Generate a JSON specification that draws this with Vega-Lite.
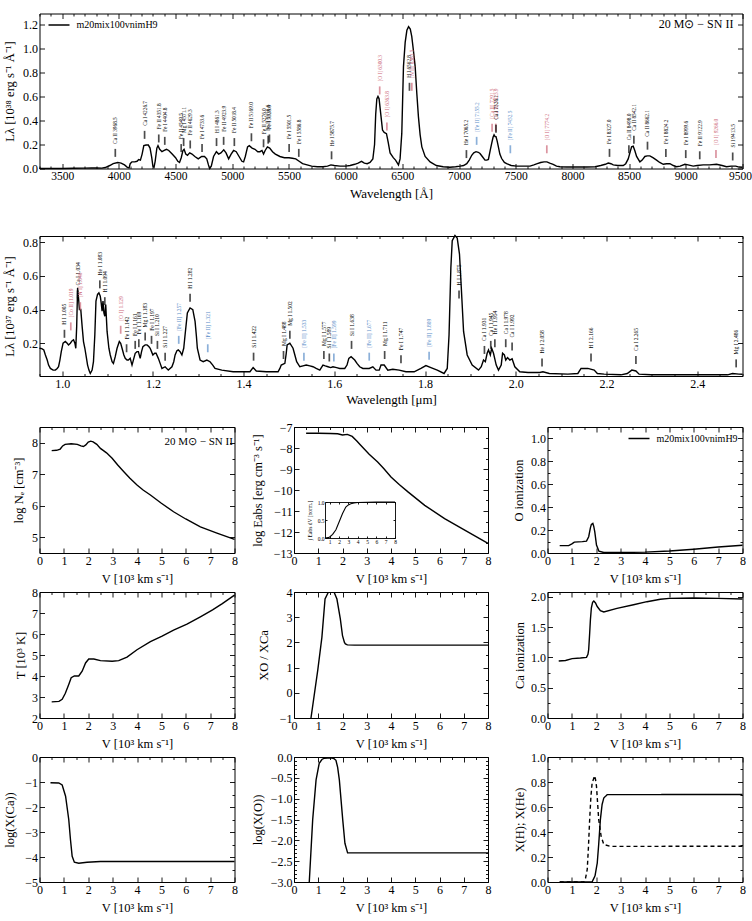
{
"$schema": "https://vega.github.io/schema/vega-lite/v6.json",
"background": "white",
"padding": {"left": 1.5, "top": 12.5, "right": 5, "bottom": 2},
"config": {
  "font": "Liberation Serif",
  "view": {"stroke": "black", "strokeWidth": 1},
  "axis": {"domain": false, "grid": false, "tickColor": "black", "tickWidth": 0.9, "labelColor": "black", "titleColor": "black", "labelFontSize": 12, "titleFontSize": 12.5, "titleFontWeight": "normal", "labelFlush": false, "labelOverlap": false, "labelPadding": 7, "titleBaseline": "middle", "minExtent": 0},
  "axisBottom": {"titleY": 25},
  "legend": {"labelFontSize": 10, "labelColor": "black", "labelFont": "Liberation Serif"},
  "text": {"color": "black", "font": "Liberation Serif"}
},
"datasets": {
  "opt": [
    {"w":3300,"f":0},{"w":3400,"f":0},{"w":3500,"f":0},{"w":3600,"f":0.002},{"w":3700,"f":0.003},{"w":3760,"f":0.005},{"w":3800,"f":0.004},{"w":3850,"f":0.003},{"w":3880,"f":0.008},{"w":3920,"f":0.025},{"w":3950,"f":0.04},{"w":3990,"f":0.05},{"w":4020,"f":0.045},{"w":4050,"f":0.03},{"w":4075,"f":0.01},{"w":4090,"f":0.005},{"w":4100,"f":0.04},{"w":4115,"f":0.055},{"w":4140,"f":0.055},{"w":4160,"f":0.06},{"w":4175,"f":0.075},{"w":4190,"f":0.07},{"w":4205,"f":0.12},{"w":4220,"f":0.19},{"w":4240,"f":0.195},{"w":4260,"f":0.195},{"w":4275,"f":0.17},{"w":4290,"f":0.09},{"w":4300,"f":0.02},{"w":4310,"f":0.01},{"w":4320,"f":0.06},{"w":4335,"f":0.17},{"w":4345,"f":0.19},{"w":4360,"f":0.16},{"w":4380,"f":0.14},{"w":4400,"f":0.15},{"w":4420,"f":0.16},{"w":4440,"f":0.15},{"w":4470,"f":0.12},{"w":4500,"f":0.09},{"w":4520,"f":0.06},{"w":4535,"f":0.05},{"w":4550,"f":0.09},{"w":4565,"f":0.15},{"w":4575,"f":0.16},{"w":4590,"f":0.12},{"w":4605,"f":0.11},{"w":4625,"f":0.13},{"w":4645,"f":0.12},{"w":4670,"f":0.1},{"w":4700,"f":0.08},{"w":4730,"f":0.1},{"w":4755,"f":0.1},{"w":4775,"f":0.08},{"w":4790,"f":0.03},{"w":4800,"f":0},{"w":4815,"f":0.02},{"w":4835,"f":0.1},{"w":4860,"f":0.14},{"w":4880,"f":0.12},{"w":4900,"f":0.13},{"w":4925,"f":0.155},{"w":4945,"f":0.13},{"w":4968,"f":0.08},{"w":4990,"f":0.12},{"w":5012,"f":0.15},{"w":5035,"f":0.14},{"w":5060,"f":0.1},{"w":5085,"f":0.06},{"w":5100,"f":0.055},{"w":5115,"f":0.1},{"w":5135,"f":0.18},{"w":5150,"f":0.19},{"w":5175,"f":0.17},{"w":5200,"f":0.16},{"w":5225,"f":0.14},{"w":5245,"f":0.14},{"w":5262,"f":0.15},{"w":5276,"f":0.12},{"w":5290,"f":0.15},{"w":5310,"f":0.18},{"w":5330,"f":0.17},{"w":5355,"f":0.14},{"w":5380,"f":0.12},{"w":5420,"f":0.1},{"w":5460,"f":0.09},{"w":5500,"f":0.09},{"w":5530,"f":0.085},{"w":5560,"f":0.08},{"w":5590,"f":0.06},{"w":5620,"f":0.04},{"w":5660,"f":0.03},{"w":5700,"f":0.02},{"w":5750,"f":0.015},{"w":5800,"f":0.015},{"w":5840,"f":0.02},{"w":5870,"f":0.03},{"w":5900,"f":0.025},{"w":5950,"f":0.02},{"w":6000,"f":0.02},{"w":6040,"f":0.025},{"w":6080,"f":0.035},{"w":6110,"f":0.045},{"w":6140,"f":0.06},{"w":6165,"f":0.045},{"w":6190,"f":0.04},{"w":6215,"f":0.05},{"w":6240,"f":0.08},{"w":6255,"f":0.2},{"w":6265,"f":0.45},{"w":6275,"f":0.58},{"w":6285,"f":0.6},{"w":6295,"f":0.58},{"w":6310,"f":0.45},{"w":6325,"f":0.32},{"w":6340,"f":0.3},{"w":6360,"f":0.29},{"w":6375,"f":0.22},{"w":6392,"f":0.13},{"w":6420,"f":0.09},{"w":6440,"f":0.07},{"w":6466,"f":0.03},{"w":6480,"f":0.08},{"w":6495,"f":0.29},{"w":6510,"f":0.85},{"w":6525,"f":1.05},{"w":6540,"f":1.15},{"w":6555,"f":1.18},{"w":6570,"f":1.16},{"w":6583,"f":1.1},{"w":6598,"f":0.98},{"w":6613,"f":0.85},{"w":6628,"f":0.62},{"w":6642,"f":0.43},{"w":6657,"f":0.28},{"w":6672,"f":0.18},{"w":6701,"f":0.1},{"w":6745,"f":0.055},{"w":6800,"f":0.025},{"w":6860,"f":0.015},{"w":6920,"f":0.01},{"w":6970,"f":0.015},{"w":7010,"f":0.02},{"w":7040,"f":0.025},{"w":7068,"f":0.04},{"w":7090,"f":0.07},{"w":7112,"f":0.11},{"w":7130,"f":0.13},{"w":7150,"f":0.14},{"w":7170,"f":0.135},{"w":7185,"f":0.125},{"w":7205,"f":0.1},{"w":7229,"f":0.07},{"w":7245,"f":0.07},{"w":7259,"f":0.075},{"w":7275,"f":0.15},{"w":7288,"f":0.21},{"w":7300,"f":0.26},{"w":7309,"f":0.28},{"w":7318,"f":0.265},{"w":7326,"f":0.265},{"w":7336,"f":0.23},{"w":7347,"f":0.18},{"w":7360,"f":0.12},{"w":7376,"f":0.083},{"w":7400,"f":0.05},{"w":7420,"f":0.04},{"w":7460,"f":0.025},{"w":7508,"f":0.02},{"w":7560,"f":0.02},{"w":7626,"f":0.02},{"w":7660,"f":0.03},{"w":7690,"f":0.04},{"w":7720,"f":0.05},{"w":7750,"f":0.055},{"w":7775,"f":0.055},{"w":7800,"f":0.045},{"w":7830,"f":0.035},{"w":7860,"f":0.02},{"w":7890,"f":0.015},{"w":7950,"f":0.012},{"w":8050,"f":0.012},{"w":8125,"f":0.012},{"w":8200,"f":0.015},{"w":8250,"f":0.025},{"w":8290,"f":0.035},{"w":8316,"f":0.045},{"w":8340,"f":0.04},{"w":8360,"f":0.03},{"w":8400,"f":0.025},{"w":8448,"f":0.025},{"w":8470,"f":0.04},{"w":8492,"f":0.08},{"w":8510,"f":0.14},{"w":8522,"f":0.18},{"w":8536,"f":0.185},{"w":8550,"f":0.15},{"w":8566,"f":0.1},{"w":8595,"f":0.055},{"w":8615,"f":0.07},{"w":8639,"f":0.1},{"w":8660,"f":0.105},{"w":8683,"f":0.105},{"w":8710,"f":0.09},{"w":8742,"f":0.07},{"w":8770,"f":0.05},{"w":8801,"f":0.035},{"w":8830,"f":0.04},{"w":8860,"f":0.04},{"w":8890,"f":0.025},{"w":8918,"f":0.015},{"w":8950,"f":0.02},{"w":8992,"f":0.035},{"w":9020,"f":0.03},{"w":9065,"f":0.02},{"w":9100,"f":0.025},{"w":9153,"f":0.03},{"w":9210,"f":0.03},{"w":9271,"f":0.035},{"w":9320,"f":0.025},{"w":9359,"f":0.015},{"w":9400,"f":0.02},{"w":9440,"f":0.02},{"w":9470,"f":0.012},{"w":9500,"f":0.01}
  ],
  "l1": [
    {"w":3968.5,"y":0.13,"t":"Ca II 3968.5","k":"p"},
    {"w":4226.7,"y":0.28,"t":"Ca I 4226.7","k":"p"},
    {"w":4351.8,"y":0.25,"t":"Fe II 4351.8","k":"p"},
    {"w":4404.8,"y":0.23,"t":"Fe I 4404.8","k":"p"},
    {"w":4549.5,"y":0.17,"t":"Fe II 4549.5","k":"p"},
    {"w":4571.1,"y":0.22,"t":"Mg I 4571.1","k":"p"},
    {"w":4629.3,"y":0.2,"t":"Fe II 4629.3","k":"p"},
    {"w":4733.6,"y":0.17,"t":"Fe I 4733.6","k":"p"},
    {"w":4861.3,"y":0.22,"t":"H I 4861.3","k":"p"},
    {"w":4923.9,"y":0.23,"t":"Fe II 4923.9","k":"p"},
    {"w":5018.4,"y":0.22,"t":"Fe II 5018.4","k":"p"},
    {"w":5169.0,"y":0.26,"t":"Fe II 5169.0","k":"p"},
    {"w":5276.0,"y":0.21,"t":"Fe II 5276.0","k":"p"},
    {"w":5316.6,"y":0.24,"t":"Fe II 5316.6","k":"p"},
    {"w":5328.0,"y":0.25,"t":"Fe I 5328.0","k":"p"},
    {"w":5501.5,"y":0.17,"t":"Fe I 5501.5","k":"p"},
    {"w":5586.8,"y":0.13,"t":"Fe I 5586.8","k":"p"},
    {"w":5875.7,"y":0.11,"t":"He I 5875.7","k":"p"},
    {"w":6300.3,"y":0.65,"t":"[O I] 6300.3","k":"f"},
    {"w":6363.8,"y":0.35,"t":"[O I] 6363.8","k":"f"},
    {"w":6562.8,"y":0.68,"t":"H I 6562.8","k":"p"},
    {"w":6583.5,"y":0.68,"t":"[N II] 6583.5","k":"f"},
    {"w":7065.2,"y":0.12,"t":"He I 7065.2","k":"p"},
    {"w":7155.2,"y":0.23,"t":"[Fe II] 7155.2","k":"b"},
    {"w":7291.5,"y":0.34,"t":"[Ca II] 7291.5","k":"f"},
    {"w":7323.9,"y":0.34,"t":"[Ca II] 7323.9","k":"f"},
    {"w":7326.1,"y":0.33,"t":"Ca I 7326.1","k":"p"},
    {"w":7452.5,"y":0.16,"t":"[Fe II] 7452.5","k":"b"},
    {"w":7774.2,"y":0.16,"t":"[O I] 7774.2","k":"f"},
    {"w":8327.0,"y":0.13,"t":"Fe I 8327.0","k":"p"},
    {"w":8498.0,"y":0.16,"t":"Ca II 8498.0","k":"p"},
    {"w":8542.1,"y":0.24,"t":"Ca II 8542.1","k":"p"},
    {"w":8662.1,"y":0.19,"t":"Ca II 8662.1","k":"p"},
    {"w":8824.2,"y":0.13,"t":"Fe I 8824.2","k":"p"},
    {"w":8999.6,"y":0.12,"t":"Fe I 8999.6","k":"p"},
    {"w":9122.9,"y":0.11,"t":"Fe II 9122.9","k":"p"},
    {"w":9266.0,"y":0.12,"t":"[O I] 9266.0","k":"f"},
    {"w":9413.5,"y":0.1,"t":"Si I 9413.5","k":"p"}
  ],
  "nir": [
    {"w":0.95,"f":0.17},{"w":0.955,"f":0.168},{"w":0.9595,"f":0.16},{"w":0.963,"f":0.13},{"w":0.967,"f":0.1},{"w":0.97,"f":0.07},{"w":0.974,"f":0.05},{"w":0.98,"f":0.04},{"w":0.985,"f":0.04},{"w":0.989,"f":0.05},{"w":0.992,"f":0.06},{"w":0.995,"f":0.1},{"w":0.998,"f":0.15},{"w":1.002,"f":0.2},{"w":1.007,"f":0.21},{"w":1.011,"f":0.2},{"w":1.014,"f":0.19},{"w":1.018,"f":0.2},{"w":1.022,"f":0.215},{"w":1.025,"f":0.22},{"w":1.028,"f":0.2},{"w":1.03,"f":0.17},{"w":1.032,"f":0.3},{"w":1.034,"f":0.53},{"w":1.036,"f":0.47},{"w":1.038,"f":0.4},{"w":1.041,"f":0.4},{"w":1.044,"f":0.3},{"w":1.047,"f":0.21},{"w":1.05,"f":0.17},{"w":1.053,"f":0.12},{"w":1.056,"f":0.07},{"w":1.059,"f":0.04},{"w":1.062,"f":0.02},{"w":1.066,"f":0.04},{"w":1.069,"f":0.09},{"w":1.072,"f":0.25},{"w":1.0745,"f":0.45},{"w":1.078,"f":0.49},{"w":1.081,"f":0.5},{"w":1.084,"f":0.48},{"w":1.086,"f":0.44},{"w":1.088,"f":0.39},{"w":1.09,"f":0.45},{"w":1.092,"f":0.38},{"w":1.094,"f":0.36},{"w":1.096,"f":0.43},{"w":1.099,"f":0.27},{"w":1.103,"f":0.17},{"w":1.106,"f":0.13},{"w":1.11,"f":0.09},{"w":1.113,"f":0.08},{"w":1.117,"f":0.12},{"w":1.121,"f":0.17},{"w":1.126,"f":0.21},{"w":1.129,"f":0.2},{"w":1.132,"f":0.17},{"w":1.136,"f":0.13},{"w":1.139,"f":0.11},{"w":1.143,"f":0.1},{"w":1.146,"f":0.1},{"w":1.15,"f":0.11},{"w":1.154,"f":0.07},{"w":1.158,"f":0.11},{"w":1.161,"f":0.14},{"w":1.165,"f":0.15},{"w":1.168,"f":0.15},{"w":1.172,"f":0.11},{"w":1.175,"f":0.15},{"w":1.178,"f":0.18},{"w":1.183,"f":0.19},{"w":1.187,"f":0.19},{"w":1.191,"f":0.18},{"w":1.194,"f":0.17},{"w":1.197,"f":0.15},{"w":1.2,"f":0.13},{"w":1.204,"f":0.14},{"w":1.207,"f":0.14},{"w":1.212,"f":0.11},{"w":1.216,"f":0.08},{"w":1.22,"f":0.05},{"w":1.227,"f":0.06},{"w":1.234,"f":0.04},{"w":1.242,"f":0.06},{"w":1.246,"f":0.09},{"w":1.249,"f":0.13},{"w":1.253,"f":0.155},{"w":1.256,"f":0.16},{"w":1.26,"f":0.15},{"w":1.264,"f":0.13},{"w":1.268,"f":0.17},{"w":1.271,"f":0.25},{"w":1.276,"f":0.38},{"w":1.282,"f":0.41},{"w":1.288,"f":0.4},{"w":1.293,"f":0.33},{"w":1.296,"f":0.24},{"w":1.298,"f":0.17},{"w":1.304,"f":0.1},{"w":1.311,"f":0.09},{"w":1.319,"f":0.1},{"w":1.326,"f":0.09},{"w":1.332,"f":0.07},{"w":1.337,"f":0.05},{"w":1.352,"f":0.04},{"w":1.377,"f":0.03},{"w":1.4,"f":0.03},{"w":1.414,"f":0.03},{"w":1.421,"f":0.055},{"w":1.428,"f":0.035},{"w":1.45,"f":0.03},{"w":1.476,"f":0.03},{"w":1.48,"f":0.05},{"w":1.483,"f":0.07},{"w":1.491,"f":0.08},{"w":1.494,"f":0.14},{"w":1.496,"f":0.19},{"w":1.502,"f":0.2},{"w":1.509,"f":0.17},{"w":1.513,"f":0.13},{"w":1.517,"f":0.09},{"w":1.524,"f":0.06},{"w":1.531,"f":0.065},{"w":1.538,"f":0.07},{"w":1.546,"f":0.065},{"w":1.553,"f":0.06},{"w":1.56,"f":0.05},{"w":1.568,"f":0.04},{"w":1.575,"f":0.07},{"w":1.58,"f":0.065},{"w":1.586,"f":0.06},{"w":1.592,"f":0.055},{"w":1.597,"f":0.06},{"w":1.605,"f":0.055},{"w":1.612,"f":0.05},{"w":1.623,"f":0.05},{"w":1.628,"f":0.07},{"w":1.632,"f":0.11},{"w":1.637,"f":0.12},{"w":1.645,"f":0.1},{"w":1.65,"f":0.08},{"w":1.656,"f":0.06},{"w":1.663,"f":0.05},{"w":1.67,"f":0.05},{"w":1.677,"f":0.05},{"w":1.685,"f":0.06},{"w":1.692,"f":0.04},{"w":1.699,"f":0.04},{"w":1.703,"f":0.07},{"w":1.71,"f":0.07},{"w":1.718,"f":0.04},{"w":1.729,"f":0.045},{"w":1.743,"f":0.04},{"w":1.758,"f":0.03},{"w":1.776,"f":0.03},{"w":1.791,"f":0.05},{"w":1.802,"f":0.067},{"w":1.813,"f":0.055},{"w":1.827,"f":0.04},{"w":1.842,"f":0.02},{"w":1.849,"f":0.05},{"w":1.853,"f":0.25},{"w":1.857,"f":0.65},{"w":1.86,"f":0.81},{"w":1.866,"f":0.84},{"w":1.871,"f":0.825},{"w":1.876,"f":0.73},{"w":1.88,"f":0.53},{"w":1.885,"f":0.27},{"w":1.893,"f":0.13},{"w":1.904,"f":0.07},{"w":1.918,"f":0.04},{"w":1.924,"f":0.06},{"w":1.929,"f":0.1},{"w":1.933,"f":0.09},{"w":1.937,"f":0.14},{"w":1.94,"f":0.16},{"w":1.944,"f":0.13},{"w":1.947,"f":0.17},{"w":1.951,"f":0.14},{"w":1.957,"f":0.07},{"w":1.962,"f":0.04},{"w":1.968,"f":0.07},{"w":1.971,"f":0.14},{"w":1.975,"f":0.13},{"w":1.978,"f":0.1},{"w":1.982,"f":0.115},{"w":1.987,"f":0.1},{"w":1.992,"f":0.107},{"w":1.998,"f":0.06},{"w":2.009,"f":0.03},{"w":2.027,"f":0.026},{"w":2.053,"f":0.026},{"w":2.06,"f":0.03},{"w":2.074,"f":0.02},{"w":2.115,"f":0.016},{"w":2.137,"f":0.02},{"w":2.144,"f":0.05},{"w":2.159,"f":0.05},{"w":2.173,"f":0.04},{"w":2.18,"f":0.02},{"w":2.195,"f":0.016},{"w":2.232,"f":0.012},{"w":2.246,"f":0.02},{"w":2.256,"f":0.04},{"w":2.265,"f":0.035},{"w":2.272,"f":0.016},{"w":2.298,"f":0.012},{"w":2.408,"f":0.012},{"w":2.467,"f":0.012},{"w":2.478,"f":0.02},{"w":2.492,"f":0.016},{"w":2.5,"f":0.015}
  ],
  "l2": [
    {"w":1.005,"y":0.256,"t":"H I 1.005","k":"p"},
    {"w":1.019,"y":0.3,"t":"[Co II] 1.019","k":"f"},
    {"w":1.034,"y":0.49,"t":"Ca I 1.034","k":"p"},
    {"w":1.04,"y":0.42,"t":"[N I] 1.040","k":"f"},
    {"w":1.083,"y":0.55,"t":"He I 1.083","k":"p"},
    {"w":1.094,"y":0.45,"t":"H I 1.094","k":"p"},
    {"w":1.129,"y":0.28,"t":"[O I] 1.129","k":"f"},
    {"w":1.142,"y":0.17,"t":"Fe I 1.142","k":"p"},
    {"w":1.161,"y":0.19,"t":"Fe I 1.161","k":"p"},
    {"w":1.169,"y":0.2,"t":"Fe I 1.169","k":"p"},
    {"w":1.183,"y":0.24,"t":"Mg I 1.183","k":"p"},
    {"w":1.197,"y":0.22,"t":"Fe I 1.197","k":"p"},
    {"w":1.21,"y":0.19,"t":"Si I 1.210","k":"p"},
    {"w":1.227,"y":0.12,"t":"Si I 1.227","k":"p"},
    {"w":1.257,"y":0.22,"t":"[Fe II] 1.257","k":"b"},
    {"w":1.282,"y":0.47,"t":"H I 1.282","k":"p"},
    {"w":1.321,"y":0.17,"t":"[Fe II] 1.321","k":"b"},
    {"w":1.422,"y":0.12,"t":"Si I 1.422","k":"p"},
    {"w":1.488,"y":0.13,"t":"Mg I 1.488","k":"p"},
    {"w":1.502,"y":0.25,"t":"Mg I 1.502","k":"p"},
    {"w":1.533,"y":0.12,"t":"[Fe II] 1.533","k":"b"},
    {"w":1.577,"y":0.13,"t":"Mg I 1.577","k":"p"},
    {"w":1.589,"y":0.115,"t":"Si I 1.589","k":"p"},
    {"w":1.599,"y":0.115,"t":"[Fe II] 1.599","k":"b"},
    {"w":1.638,"y":0.19,"t":"Si I 1.638","k":"p"},
    {"w":1.677,"y":0.12,"t":"[Fe II] 1.677","k":"b"},
    {"w":1.711,"y":0.13,"t":"Mg I 1.711","k":"p"},
    {"w":1.747,"y":0.105,"t":"Fe I 1.747","k":"p"},
    {"w":1.809,"y":0.125,"t":"[Fe II] 1.809","k":"b"},
    {"w":1.875,"y":0.49,"t":"H I 1.875","k":"p"},
    {"w":1.931,"y":0.16,"t":"Ca I 1.931","k":"p"},
    {"w":1.945,"y":0.19,"t":"Ca I 1.945","k":"p"},
    {"w":1.954,"y":0.2,"t":"He I 1.954","k":"p"},
    {"w":1.978,"y":0.2,"t":"Ca I 1.978","k":"p"},
    {"w":1.992,"y":0.18,"t":"Ca I 1.992","k":"p"},
    {"w":2.058,"y":0.085,"t":"He I 2.058","k":"p"},
    {"w":2.166,"y":0.115,"t":"H I 2.166","k":"p"},
    {"w":2.265,"y":0.1,"t":"Ca I 2.265","k":"p"},
    {"w":2.486,"y":0.08,"t":"Mg I 2.486","k":"p"}
  ],
  "ne": [{"v":0.5,"y":7.75},{"v":0.7,"y":7.76},{"v":0.85,"y":7.8},{"v":0.95,"y":7.9},{"v":1.05,"y":7.95},{"v":1.3,"y":7.97},{"v":1.55,"y":7.95},{"v":1.7,"y":7.9},{"v":1.8,"y":7.88},{"v":1.9,"y":7.93},{"v":2.0,"y":8.02},{"v":2.1,"y":8.05},{"v":2.2,"y":8.03},{"v":2.35,"y":7.95},{"v":2.5,"y":7.82},{"v":2.75,"y":7.68},{"v":2.98,"y":7.51},{"v":3.2,"y":7.3},{"v":3.46,"y":7.08},{"v":3.7,"y":6.88},{"v":4.0,"y":6.66},{"v":4.25,"y":6.5},{"v":4.55,"y":6.34},{"v":5.0,"y":6.08},{"v":5.5,"y":5.81},{"v":6.0,"y":5.58},{"v":6.6,"y":5.33},{"v":7.28,"y":5.13},{"v":8.0,"y":4.93}],
  "eabs": [{"v":0.5,"y":-7.3},{"v":1.0,"y":-7.3},{"v":1.5,"y":-7.31},{"v":1.8,"y":-7.32},{"v":2.0,"y":-7.38},{"v":2.2,"y":-7.35},{"v":2.4,"y":-7.45},{"v":2.6,"y":-7.68},{"v":2.76,"y":-7.88},{"v":3.1,"y":-8.3},{"v":3.45,"y":-8.67},{"v":3.7,"y":-8.98},{"v":4.0,"y":-9.38},{"v":4.35,"y":-9.75},{"v":4.7,"y":-10.09},{"v":5.39,"y":-10.73},{"v":6.21,"y":-11.36},{"v":7.04,"y":-11.91},{"v":8.0,"y":-12.54}],
  "inset": [{"v":0.5,"y":0},{"v":0.85,"y":0.01},{"v":1.0,"y":0.03},{"v":1.32,"y":0.1},{"v":1.67,"y":0.23},{"v":2.02,"y":0.45},{"v":2.38,"y":0.68},{"v":2.73,"y":0.86},{"v":3.0,"y":0.92},{"v":3.27,"y":0.95},{"v":3.6,"y":0.97},{"v":4.0,"y":0.985},{"v":5.0,"y":0.995},{"v":6.0,"y":1.0},{"v":8.0,"y":1.0}],
  "oion": [{"v":0.5,"y":0.064},{"v":0.87,"y":0.064},{"v":1.0,"y":0.08},{"v":1.1,"y":0.095},{"v":1.43,"y":0.099},{"v":1.6,"y":0.104},{"v":1.69,"y":0.142},{"v":1.76,"y":0.22},{"v":1.8,"y":0.25},{"v":1.86,"y":0.258},{"v":1.9,"y":0.23},{"v":1.94,"y":0.185},{"v":2.01,"y":0.07},{"v":2.11,"y":0.015},{"v":2.31,"y":0.004},{"v":3.0,"y":0.004},{"v":4.0,"y":0.008},{"v":5.0,"y":0.017},{"v":6.0,"y":0.033},{"v":7.0,"y":0.052},{"v":8.0,"y":0.068}],
  "temp": [{"v":0.5,"y":2.77},{"v":0.8,"y":2.79},{"v":0.93,"y":2.89},{"v":1.06,"y":3.18},{"v":1.2,"y":3.6},{"v":1.3,"y":3.92},{"v":1.43,"y":4.0},{"v":1.61,"y":4.0},{"v":1.75,"y":4.23},{"v":1.89,"y":4.62},{"v":2.02,"y":4.81},{"v":2.23,"y":4.81},{"v":2.5,"y":4.73},{"v":2.98,"y":4.7},{"v":3.25,"y":4.73},{"v":3.59,"y":4.9},{"v":4.0,"y":5.25},{"v":4.55,"y":5.64},{"v":5.03,"y":5.9},{"v":5.5,"y":6.19},{"v":6.05,"y":6.47},{"v":6.6,"y":6.82},{"v":7.1,"y":7.15},{"v":7.5,"y":7.45},{"v":8.0,"y":7.85}],
  "xoca": [{"v":0.7,"y":-1.0},{"v":0.98,"y":0.9},{"v":1.15,"y":2.2},{"v":1.28,"y":3.72},{"v":1.42,"y":4.5},{"v":1.55,"y":4.8},{"v":1.65,"y":4.6},{"v":1.77,"y":3.72},{"v":1.91,"y":2.93},{"v":2.0,"y":2.27},{"v":2.08,"y":2.0},{"v":2.12,"y":1.94},{"v":2.2,"y":1.9},{"v":2.5,"y":1.89},{"v":8.0,"y":1.89}],
  "caion": [{"v":0.46,"y":0.94},{"v":0.74,"y":0.95},{"v":1.01,"y":0.98},{"v":1.35,"y":0.99},{"v":1.6,"y":1.0},{"v":1.66,"y":1.05},{"v":1.69,"y":1.13},{"v":1.73,"y":1.4},{"v":1.76,"y":1.62},{"v":1.8,"y":1.82},{"v":1.85,"y":1.91},{"v":1.9,"y":1.93},{"v":1.97,"y":1.9},{"v":2.04,"y":1.84},{"v":2.17,"y":1.77},{"v":2.31,"y":1.75},{"v":2.85,"y":1.81},{"v":3.53,"y":1.87},{"v":4.08,"y":1.92},{"v":4.63,"y":1.96},{"v":5.0,"y":1.975},{"v":6.0,"y":1.98},{"v":7.0,"y":1.975},{"v":8.0,"y":1.965}],
  "xca": [{"v":0.45,"y":-1.03},{"v":0.79,"y":-1.04},{"v":0.93,"y":-1.12},{"v":1.07,"y":-1.57},{"v":1.2,"y":-2.5},{"v":1.27,"y":-3.3},{"v":1.34,"y":-3.97},{"v":1.43,"y":-4.21},{"v":1.61,"y":-4.25},{"v":1.95,"y":-4.21},{"v":2.5,"y":-4.18},{"v":8.0,"y":-4.18}],
  "xo": [{"v":0.63,"y":-3.0},{"v":0.77,"y":-1.51},{"v":0.91,"y":-0.55},{"v":1.04,"y":-0.15},{"v":1.15,"y":-0.06},{"v":1.25,"y":-0.03},{"v":1.53,"y":-0.02},{"v":1.65,"y":-0.04},{"v":1.73,"y":-0.08},{"v":1.8,"y":-0.25},{"v":1.87,"y":-0.55},{"v":2.01,"y":-1.51},{"v":2.1,"y":-2.07},{"v":2.21,"y":-2.3},{"v":8.0,"y":-2.3}],
  "xh": [{"v":0.5,"y":0,"s":"H"},{"v":1.83,"y":0,"s":"H"},{"v":1.95,"y":0.05,"s":"H"},{"v":2.04,"y":0.15,"s":"H"},{"v":2.1,"y":0.3,"s":"H"},{"v":2.17,"y":0.5,"s":"H"},{"v":2.24,"y":0.62,"s":"H"},{"v":2.31,"y":0.672,"s":"H"},{"v":2.45,"y":0.699,"s":"H"},{"v":8.0,"y":0.7,"s":"H"},
         {"v":0.5,"y":0,"s":"He"},{"v":1.49,"y":0,"s":"He"},{"v":1.56,"y":0.03,"s":"He"},{"v":1.63,"y":0.1,"s":"He"},{"v":1.68,"y":0.28,"s":"He"},{"v":1.73,"y":0.5,"s":"He"},{"v":1.78,"y":0.68,"s":"He"},{"v":1.83,"y":0.79,"s":"He"},{"v":1.93,"y":0.85,"s":"He"},{"v":1.97,"y":0.82,"s":"He"},{"v":2.01,"y":0.765,"s":"He"},{"v":2.1,"y":0.5,"s":"He"},{"v":2.2,"y":0.366,"s":"He"},{"v":2.31,"y":0.3,"s":"He"},{"v":2.58,"y":0.285,"s":"He"},{"v":8.0,"y":0.286,"s":"He"}],
  "one": [{"a": 1}]
},
"spacing": 13.5,
"resolve": {"scale": {"color": "independent", "strokeDash": "independent"}},
"vconcat": [
 {"spacing": 30.5, "resolve": {"scale": {"color": "independent"}}, "vconcat": [
  {
   "width": 703, "height": 155,
   "layer": [
    {"data": {"name": "opt"}, "mark": {"type": "line", "strokeWidth": 1.4},
     "encoding": {
      "x": {"field": "w", "type": "quantitative", "scale": {"domain": [3300, 9500], "nice": false, "zero": false},
            "axis": {"title": "Wavelength [Å]", "titleFontSize": 13, "format": "d", "labelFontSize": 11.5, "labelFlush": 3, "labelFlushOffset": 9,
                     "values": [3300,3400,3500,3600,3700,3800,3900,4000,4100,4200,4300,4400,4500,4600,4700,4800,4900,5000,5100,5200,5300,5400,5500,5600,5700,5800,5900,6000,6100,6200,6300,6400,6500,6600,6700,6800,6900,7000,7100,7200,7300,7400,7500,7600,7700,7800,7900,8000,8100,8200,8300,8400,8500,8600,8700,8800,8900,9000,9100,9200,9300,9400,9500],
                     "labelExpr": "datum.value % 500 === 0 ? datum.label : ''",
                     "tickSize": {"condition": {"test": "datum.value % 500 === 0", "value": -5}, "value": -2.5}}},
      "y": {"field": "f", "type": "quantitative", "scale": {"domain": [0, 1.29], "nice": false, "zero": false},
            "axis": {"title": "Lλ [10³⁸ erg s⁻¹ Å⁻¹]", "titleX": -30.5, "format": ".1f", "values": [0,0.2,0.4,0.6,0.8,1.0,1.2], "tickSize": -5}},
      "color": {"datum": "m20mix100vnimH9", "scale": {"range": ["black"]},
                "legend": {"orient": "none", "legendX": 8, "legendY": 0, "title": null, "symbolType": "stroke", "symbolSize": 441, "symbolStrokeWidth": 1.5, "labelFontSize": 10, "labelOffset": 6, "padding": 0}}
     }},
    {"data": {"name": "opt"}, "mark": {"type": "line", "opacity": 0},
     "encoding": {
      "x": {"field": "w", "type": "quantitative", "scale": {"domain": [3300, 9500], "nice": false, "zero": false},
            "axis": {"orient": "top", "title": null, "labels": false,
                     "values": [3300,3400,3500,3600,3700,3800,3900,4000,4100,4200,4300,4400,4500,4600,4700,4800,4900,5000,5100,5200,5300,5400,5500,5600,5700,5800,5900,6000,6100,6200,6300,6400,6500,6600,6700,6800,6900,7000,7100,7200,7300,7400,7500,7600,7700,7800,7900,8000,8100,8200,8300,8400,8500,8600,8700,8800,8900,9000,9100,9200,9300,9400,9500],
                     "tickSize": {"condition": {"test": "datum.value % 500 === 0", "value": -5}, "value": -2.5}}},
      "y": {"field": "f", "type": "quantitative", "scale": {"domain": [0, 1.29], "nice": false, "zero": false},
            "axis": {"orient": "right", "title": null, "labels": false, "values": [0,0.2,0.4,0.6,0.8,1.0,1.2], "tickSize": -5}}
     }},
    {"data": {"name": "l1"}, "mark": {"type": "tick", "orient": "vertical", "size": 8, "thickness": 1.7},
     "encoding": {
      "x": {"field": "w", "type": "quantitative", "scale": {"domain": [3300, 9500], "nice": false, "zero": false}, "axis": null},
      "y": {"field": "y", "type": "quantitative", "scale": {"domain": [0, 1.29], "nice": false, "zero": false}, "axis": null},
      "color": {"field": "k", "type": "nominal", "scale": {"domain": ["p", "f", "b"], "range": ["black", "#cc6677", "#5b8ec9"]}, "legend": null}
     }},
    {"data": {"name": "l1"}, "mark": {"type": "text", "angle": 270, "align": "left", "baseline": "middle", "dx": 9, "fontSize": 5.3},
     "encoding": {
      "x": {"field": "w", "type": "quantitative", "scale": {"domain": [3300, 9500], "nice": false, "zero": false}, "axis": null},
      "y": {"field": "y", "type": "quantitative", "scale": {"domain": [0, 1.29], "nice": false, "zero": false}, "axis": null},
      "text": {"field": "t"},
      "color": {"field": "k", "type": "nominal", "scale": {"domain": ["p", "f", "b"], "range": ["black", "#cc6677", "#5b8ec9"]}, "legend": null}
     }},
    {"data": {"name": "one"}, "mark": {"type": "text", "align": "right", "baseline": "middle", "fontSize": 12},
     "encoding": {
      "x": {"datum": 9420, "type": "quantitative", "scale": {"domain": [3300, 9500], "nice": false, "zero": false}, "axis": null},
      "y": {"datum": 1.2, "type": "quantitative", "scale": {"domain": [0, 1.29], "nice": false, "zero": false}, "axis": null},
      "text": {"value": "20 M⊙ − SN II"}
     }}
   ],
   "resolve": {"scale": {"color": "independent"}, "axis": {"x": "independent", "y": "independent"}}
  },
  {
   "width": 703, "height": 140,
   "layer": [
    {"data": {"name": "nir"}, "mark": {"type": "line", "strokeWidth": 1.4, "color": "black"},
     "encoding": {
      "x": {"field": "w", "type": "quantitative", "scale": {"domain": [0.95, 2.5], "nice": false, "zero": false},
            "axis": {"title": "Wavelength [μm]", "titleFontSize": 13, "titleY": 23, "format": ".1f",
                     "values": [0.95,1.0,1.05,1.1,1.15,1.2,1.25,1.3,1.35,1.4,1.45,1.5,1.55,1.6,1.65,1.7,1.75,1.8,1.85,1.9,1.95,2.0,2.05,2.1,2.15,2.2,2.25,2.3,2.35,2.4,2.45,2.5],
                     "labelExpr": "abs(datum.value*5 - round(datum.value*5)) < 1e-6 ? datum.label : ''",
                     "tickSize": {"condition": {"test": "abs(datum.value*5 - round(datum.value*5)) < 1e-6", "value": -5}, "value": -2.5}}},
      "y": {"field": "f", "type": "quantitative", "scale": {"domain": [0.005, 0.8375], "nice": false, "zero": false},
            "axis": {"title": "Lλ [10³⁷ erg s⁻¹ Å⁻¹]", "titleX": -30.5, "format": ".1f", "values": [0.2,0.4,0.6,0.8], "tickSize": -5}}
     }},
    {"data": {"name": "nir"}, "mark": {"type": "line", "opacity": 0},
     "encoding": {
      "x": {"field": "w", "type": "quantitative", "scale": {"domain": [0.95, 2.5], "nice": false, "zero": false},
            "axis": {"orient": "top", "title": null, "labels": false,
                     "values": [0.95,1.0,1.05,1.1,1.15,1.2,1.25,1.3,1.35,1.4,1.45,1.5,1.55,1.6,1.65,1.7,1.75,1.8,1.85,1.9,1.95,2.0,2.05,2.1,2.15,2.2,2.25,2.3,2.35,2.4,2.45,2.5],
                     "tickSize": {"condition": {"test": "abs(datum.value*5 - round(datum.value*5)) < 1e-6", "value": -5}, "value": -2.5}}},
      "y": {"field": "f", "type": "quantitative", "scale": {"domain": [0.005, 0.8375], "nice": false, "zero": false},
            "axis": {"orient": "right", "title": null, "labels": false, "values": [0.2,0.4,0.6,0.8], "tickSize": -5}}
     }},
    {"data": {"name": "l2"}, "mark": {"type": "tick", "orient": "vertical", "size": 8, "thickness": 1.7},
     "encoding": {
      "x": {"field": "w", "type": "quantitative", "scale": {"domain": [0.95, 2.5], "nice": false, "zero": false}, "axis": null},
      "y": {"field": "y", "type": "quantitative", "scale": {"domain": [0.005, 0.8375], "nice": false, "zero": false}, "axis": null},
      "color": {"field": "k", "type": "nominal", "scale": {"domain": ["p", "f", "b"], "range": ["black", "#cc6677", "#5b8ec9"]}, "legend": null}
     }},
    {"data": {"name": "l2"}, "mark": {"type": "text", "angle": 270, "align": "left", "baseline": "middle", "dx": 9, "fontSize": 5.5},
     "encoding": {
      "x": {"field": "w", "type": "quantitative", "scale": {"domain": [0.95, 2.5], "nice": false, "zero": false}, "axis": null},
      "y": {"field": "y", "type": "quantitative", "scale": {"domain": [0.005, 0.8375], "nice": false, "zero": false}, "axis": null},
      "text": {"field": "t"},
      "color": {"field": "k", "type": "nominal", "scale": {"domain": ["p", "f", "b"], "range": ["black", "#cc6677", "#5b8ec9"]}, "legend": null}
     }}
   ],
   "resolve": {"axis": {"x": "independent", "y": "independent"}}
  }
 ]},
 {"spacing": 0, "resolve": {"scale": {"color": "independent", "strokeDash": "independent"}}, "vconcat": [
  {"hconcat": [
   {"width": 195, "height": 126, "data": {"name": "ne"},
    "layer": [
     {"mark": {"type": "line", "color": "black", "strokeWidth": 1.4},
      "encoding": {
       "x": {"field": "v", "type": "quantitative", "scale": {"domain": [0, 8], "nice": false, "zero": false},
             "axis": {"title": "V [10³ km s⁻¹]", "format": "d", "values": [0,0.5,1,1.5,2,2.5,3,3.5,4,4.5,5,5.5,6,6.5,7,7.5,8], "labelExpr": "datum.value % 1 === 0 ? datum.label : ''", "tickSize": {"condition": {"test": "datum.value % 1 === 0", "value": -5}, "value": -2.5}}},
       "y": {"field": "y", "type": "quantitative", "scale": {"domain": [4.5, 8.5], "nice": false, "zero": false},
             "axis": {"title": "log Nₑ [cm⁻³]", "titleX": -21, "format": "d", "values": [5,5.5,6,6.5,7,7.5,8], "labelExpr": "datum.value % 1 === 0 ? datum.label : ''", "tickSize": {"condition": {"test": "datum.value % 1 === 0", "value": -5}, "value": -2.5}}}
      }},
     {"mark": {"type": "line", "opacity": 0},
      "encoding": {
       "x": {"field": "v", "type": "quantitative", "scale": {"domain": [0, 8], "nice": false, "zero": false},
             "axis": {"orient": "top", "title": null, "labels": false, "values": [0,0.5,1,1.5,2,2.5,3,3.5,4,4.5,5,5.5,6,6.5,7,7.5,8], "tickSize": {"condition": {"test": "datum.value % 1 === 0", "value": -5}, "value": -2.5}}},
       "y": {"field": "y", "type": "quantitative", "scale": {"domain": [4.5, 8.5], "nice": false, "zero": false},
             "axis": {"orient": "right", "title": null, "labels": false, "values": [5,5.5,6,6.5,7,7.5,8], "tickSize": {"condition": {"test": "datum.value % 1 === 0", "value": -5}, "value": -2.5}}},
       "color": {"datum": "20 M⊙ − SN II", "scale": {"range": ["black"]},
                 "legend": {"orient": "none", "legendX": 114, "legendY": 9, "title": null, "symbolSize": 0, "symbolOpacity": 0, "symbolStrokeWidth": 0, "labelFontSize": 11, "labelOffset": 0, "padding": 0}}
      }}
    ],
    "resolve": {"axis": {"x": "independent", "y": "independent"}}
   },
   {"width": 194, "height": 126,
    "layer": [
     {"data": {"name": "eabs"}, "mark": {"type": "line", "color": "black", "strokeWidth": 1.4},
      "encoding": {
       "x": {"field": "v", "type": "quantitative", "scale": {"domain": [0, 8], "nice": false, "zero": false},
             "axis": {"title": "V [10³ km s⁻¹]", "format": "d", "values": [0,0.5,1,1.5,2,2.5,3,3.5,4,4.5,5,5.5,6,6.5,7,7.5,8], "labelExpr": "datum.value % 1 === 0 ? datum.label : ''", "tickSize": {"condition": {"test": "datum.value % 1 === 0", "value": -5}, "value": -2.5}}},
       "y": {"field": "y", "type": "quantitative", "scale": {"domain": [-13, -7], "nice": false, "zero": false},
             "axis": {"title": "log Eabs [erg cm⁻³ s⁻¹]", "titleX": -37, "format": "d", "values": [-13,-12.5,-12,-11.5,-11,-10.5,-10,-9.5,-9,-8.5,-8,-7.5,-7], "labelExpr": "datum.value % 1 === 0 ? datum.label : ''", "tickSize": {"condition": {"test": "datum.value % 1 === 0", "value": -5}, "value": -2.5}}}
      }},
     {"data": {"name": "eabs"}, "mark": {"type": "line", "opacity": 0},
      "encoding": {
       "x": {"field": "v", "type": "quantitative", "scale": {"domain": [0, 8], "nice": false, "zero": false},
             "axis": {"orient": "top", "title": null, "labels": false, "values": [0,0.5,1,1.5,2,2.5,3,3.5,4,4.5,5,5.5,6,6.5,7,7.5,8], "tickSize": {"condition": {"test": "datum.value % 1 === 0", "value": -5}, "value": -2.5}}},
       "y": {"field": "y", "type": "quantitative", "scale": {"domain": [-13, -7], "nice": false, "zero": false},
             "axis": {"orient": "right", "title": null, "labels": false, "values": [-13,-12.5,-12,-11.5,-11,-10.5,-10,-9.5,-9,-8.5,-8,-7.5,-7], "tickSize": {"condition": {"test": "datum.value % 1 === 0", "value": -5}, "value": -2.5}}}
      }},
     {"data": {"name": "inset"},
      "layer": [
       {"mark": {"type": "line", "color": "black", "strokeWidth": 1.1},
        "encoding": {
         "x": {"field": "v", "type": "quantitative", "scale": {"domain": [0.5, 8], "range": [31, 101], "nice": false, "zero": false},
               "axis": {"orient": "bottom", "offset": -15, "title": null, "values": [1,2,3,4,5,6,7,8], "format": "d", "labelFontSize": 5.5, "labelPadding": 3, "tickSize": -2, "domain": true, "domainColor": "black", "domainWidth": 0.9}},
         "y": {"field": "y", "type": "quantitative", "scale": {"domain": [0, 1], "range": [111, 75], "nice": false, "zero": false},
               "axis": {"orient": "left", "offset": -31, "title": "∫ Eabs dV [norm.]", "titleFontSize": 5.5, "titleX": -16, "values": [0, 0.5, 1], "format": ".1f", "labelFontSize": 5.5, "labelPadding": 3, "tickSize": -2, "domain": true, "domainColor": "black", "domainWidth": 0.9}}
        }},
       {"mark": {"type": "line", "opacity": 0},
        "encoding": {
         "x": {"field": "v", "type": "quantitative", "scale": {"domain": [0.5, 8], "range": [31, 101], "nice": false, "zero": false},
               "axis": {"orient": "top", "offset": -75, "title": null, "labels": false, "values": [1,2,3,4,5,6,7,8], "tickSize": -2, "domain": true, "domainColor": "black", "domainWidth": 0.9}},
         "y": {"field": "y", "type": "quantitative", "scale": {"domain": [0, 1], "range": [111, 75], "nice": false, "zero": false},
               "axis": {"orient": "right", "offset": -93, "title": null, "labels": false, "values": [0, 0.5, 1], "tickSize": -2, "domain": true, "domainColor": "black", "domainWidth": 0.9}}
        }}
      ],
      "resolve": {"axis": {"x": "independent", "y": "independent"}}
     }
    ],
    "resolve": {"scale": {"x": "independent", "y": "independent"}, "axis": {"x": "independent", "y": "independent"}}
   },
   {"width": 195, "height": 126,
    "layer": [
     {"data": {"name": "oion"}, "mark": {"type": "line", "strokeWidth": 1.4},
      "encoding": {
       "x": {"field": "v", "type": "quantitative", "scale": {"domain": [0, 8], "nice": false, "zero": false},
             "axis": {"title": "V [10³ km s⁻¹]", "format": "d", "values": [0,0.5,1,1.5,2,2.5,3,3.5,4,4.5,5,5.5,6,6.5,7,7.5,8], "labelExpr": "datum.value % 1 === 0 ? datum.label : ''", "tickSize": {"condition": {"test": "datum.value % 1 === 0", "value": -5}, "value": -2.5}}},
       "y": {"field": "y", "type": "quantitative", "scale": {"domain": [0, 1.1], "nice": false, "zero": false},
             "axis": {"title": "O ionization", "titleX": -29, "format": ".1f", "values": [0,0.1,0.2,0.3,0.4,0.5,0.6,0.7,0.8,0.9,1.0,1.1], "labelExpr": "abs(datum.value*5 - round(datum.value*5)) < 1e-6 && datum.value < 1.05 ? datum.label : ''", "tickSize": {"condition": {"test": "abs(datum.value*5 - round(datum.value*5)) < 1e-6", "value": -5}, "value": -2.5}}},
       "color": {"datum": "m20mix100vnimH9", "scale": {"range": ["black"]},
                 "legend": {"orient": "none", "legendX": 80, "legendY": 0, "title": null, "symbolType": "stroke", "symbolSize": 441, "symbolStrokeWidth": 1.5, "labelFontSize": 10, "labelOffset": 6, "padding": 0}}
      }},
     {"data": {"name": "oion"}, "mark": {"type": "line", "opacity": 0},
      "encoding": {
       "x": {"field": "v", "type": "quantitative", "scale": {"domain": [0, 8], "nice": false, "zero": false},
             "axis": {"orient": "top", "title": null, "labels": false, "values": [0,0.5,1,1.5,2,2.5,3,3.5,4,4.5,5,5.5,6,6.5,7,7.5,8], "tickSize": {"condition": {"test": "datum.value % 1 === 0", "value": -5}, "value": -2.5}}},
       "y": {"field": "y", "type": "quantitative", "scale": {"domain": [0, 1.1], "nice": false, "zero": false},
             "axis": {"orient": "right", "title": null, "labels": false, "values": [0,0.1,0.2,0.3,0.4,0.5,0.6,0.7,0.8,0.9,1.0,1.1], "tickSize": {"condition": {"test": "abs(datum.value*5 - round(datum.value*5)) < 1e-6", "value": -5}, "value": -2.5}}}
      }}
    ],
    "resolve": {"axis": {"x": "independent", "y": "independent"}}
   }
  ], "spacing": 59.5, "bounds": "flush", "resolve": {"scale": {"color": "independent"}}},
  {"hconcat": [
   {"width": 195, "height": 126, "data": {"name": "temp"},
    "layer": [
     {"mark": {"type": "line", "color": "black", "strokeWidth": 1.4},
      "encoding": {
       "x": {"field": "v", "type": "quantitative", "scale": {"domain": [0, 8], "nice": false, "zero": false},
             "axis": {"title": "V [10³ km s⁻¹]", "format": "d", "values": [0,0.5,1,1.5,2,2.5,3,3.5,4,4.5,5,5.5,6,6.5,7,7.5,8], "labelExpr": "datum.value % 1 === 0 ? datum.label : ''", "tickSize": {"condition": {"test": "datum.value % 1 === 0", "value": -5}, "value": -2.5}}},
       "y": {"field": "y", "type": "quantitative", "scale": {"domain": [2, 8], "nice": false, "zero": false},
             "axis": {"title": "T [10³ K]", "titleX": -19.5, "format": "d", "values": [2,2.5,3,3.5,4,4.5,5,5.5,6,6.5,7,7.5,8], "labelExpr": "datum.value % 1 === 0 ? datum.label : ''", "tickSize": {"condition": {"test": "datum.value % 1 === 0", "value": -5}, "value": -2.5}}}
      }},
     {"mark": {"type": "line", "opacity": 0},
      "encoding": {
       "x": {"field": "v", "type": "quantitative", "scale": {"domain": [0, 8], "nice": false, "zero": false},
             "axis": {"orient": "top", "title": null, "labels": false, "values": [0,0.5,1,1.5,2,2.5,3,3.5,4,4.5,5,5.5,6,6.5,7,7.5,8], "tickSize": {"condition": {"test": "datum.value % 1 === 0", "value": -5}, "value": -2.5}}},
       "y": {"field": "y", "type": "quantitative", "scale": {"domain": [2, 8], "nice": false, "zero": false},
             "axis": {"orient": "right", "title": null, "labels": false, "values": [2,2.5,3,3.5,4,4.5,5,5.5,6,6.5,7,7.5,8], "tickSize": {"condition": {"test": "datum.value % 1 === 0", "value": -5}, "value": -2.5}}}
      }}
    ],
    "resolve": {"axis": {"x": "independent", "y": "independent"}}
   },
   {"width": 194, "height": 126, "data": {"name": "xoca"},
    "layer": [
     {"mark": {"type": "line", "color": "black", "strokeWidth": 1.4, "clip": true},
      "encoding": {
       "x": {"field": "v", "type": "quantitative", "scale": {"domain": [0, 8], "nice": false, "zero": false},
             "axis": {"title": "V [10³ km s⁻¹]", "format": "d", "values": [0,0.5,1,1.5,2,2.5,3,3.5,4,4.5,5,5.5,6,6.5,7,7.5,8], "labelExpr": "datum.value % 1 === 0 ? datum.label : ''", "tickSize": {"condition": {"test": "datum.value % 1 === 0", "value": -5}, "value": -2.5}}},
       "y": {"field": "y", "type": "quantitative", "scale": {"domain": [-1, 4], "nice": false, "zero": false, "clamp": true},
             "axis": {"title": "XO / XCa", "titleX": -31, "format": "d", "values": [-1,-0.5,0,0.5,1,1.5,2,2.5,3,3.5,4], "labelExpr": "datum.value % 1 === 0 ? datum.label : ''", "tickSize": {"condition": {"test": "datum.value % 1 === 0", "value": -5}, "value": -2.5}}}
      }},
     {"mark": {"type": "line", "opacity": 0},
      "encoding": {
       "x": {"field": "v", "type": "quantitative", "scale": {"domain": [0, 8], "nice": false, "zero": false},
             "axis": {"orient": "top", "title": null, "labels": false, "values": [0,0.5,1,1.5,2,2.5,3,3.5,4,4.5,5,5.5,6,6.5,7,7.5,8], "tickSize": {"condition": {"test": "datum.value % 1 === 0", "value": -5}, "value": -2.5}}},
       "y": {"field": "y", "type": "quantitative", "scale": {"domain": [-1, 4], "nice": false, "zero": false, "clamp": true},
             "axis": {"orient": "right", "title": null, "labels": false, "values": [-1,-0.5,0,0.5,1,1.5,2,2.5,3,3.5,4], "tickSize": {"condition": {"test": "datum.value % 1 === 0", "value": -5}, "value": -2.5}}}
      }}
    ],
    "resolve": {"axis": {"x": "independent", "y": "independent"}}
   },
   {"width": 195, "height": 126, "data": {"name": "caion"},
    "layer": [
     {"mark": {"type": "line", "color": "black", "strokeWidth": 1.4},
      "encoding": {
       "x": {"field": "v", "type": "quantitative", "scale": {"domain": [0, 8], "nice": false, "zero": false},
             "axis": {"title": "V [10³ km s⁻¹]", "format": "d", "values": [0,0.5,1,1.5,2,2.5,3,3.5,4,4.5,5,5.5,6,6.5,7,7.5,8], "labelExpr": "datum.value % 1 === 0 ? datum.label : ''", "tickSize": {"condition": {"test": "datum.value % 1 === 0", "value": -5}, "value": -2.5}}},
       "y": {"field": "y", "type": "quantitative", "scale": {"domain": [0, 2.08], "nice": false, "zero": false},
             "axis": {"title": "Ca ionization", "titleX": -28.5, "format": ".1f", "values": [0,0.25,0.5,0.75,1,1.25,1.5,1.75,2], "labelExpr": "abs(datum.value*2 - round(datum.value*2)) < 1e-6 ? datum.label : ''", "tickSize": {"condition": {"test": "abs(datum.value*2 - round(datum.value*2)) < 1e-6", "value": -5}, "value": -2.5}}}
      }},
     {"mark": {"type": "line", "opacity": 0},
      "encoding": {
       "x": {"field": "v", "type": "quantitative", "scale": {"domain": [0, 8], "nice": false, "zero": false},
             "axis": {"orient": "top", "title": null, "labels": false, "values": [0,0.5,1,1.5,2,2.5,3,3.5,4,4.5,5,5.5,6,6.5,7,7.5,8], "tickSize": {"condition": {"test": "datum.value % 1 === 0", "value": -5}, "value": -2.5}}},
       "y": {"field": "y", "type": "quantitative", "scale": {"domain": [0, 2.08], "nice": false, "zero": false},
             "axis": {"orient": "right", "title": null, "labels": false, "values": [0,0.25,0.5,0.75,1,1.25,1.5,1.75,2], "tickSize": {"condition": {"test": "abs(datum.value*2 - round(datum.value*2)) < 1e-6", "value": -5}, "value": -2.5}}}
      }}
    ],
    "resolve": {"axis": {"x": "independent", "y": "independent"}}
   }
  ], "spacing": 59.5, "bounds": "flush"},
  {"hconcat": [
   {"width": 195, "height": 125, "data": {"name": "xca"},
    "layer": [
     {"mark": {"type": "line", "color": "black", "strokeWidth": 1.4},
      "encoding": {
       "x": {"field": "v", "type": "quantitative", "scale": {"domain": [0, 8], "nice": false, "zero": false},
             "axis": {"title": "V [10³ km s⁻¹]", "format": "d", "values": [0,0.5,1,1.5,2,2.5,3,3.5,4,4.5,5,5.5,6,6.5,7,7.5,8], "labelExpr": "datum.value % 1 === 0 ? datum.label : ''", "tickSize": {"condition": {"test": "datum.value % 1 === 0", "value": -5}, "value": -2.5}}},
       "y": {"field": "y", "type": "quantitative", "scale": {"domain": [-5, 0], "nice": false, "zero": false},
             "axis": {"title": "log(X(Ca))", "titleX": -30.5, "format": "d", "values": [-5,-4.5,-4,-3.5,-3,-2.5,-2,-1.5,-1,-0.5,0], "labelExpr": "datum.value % 1 === 0 ? datum.label : ''", "tickSize": {"condition": {"test": "datum.value % 1 === 0", "value": -5}, "value": -2.5}}}
      }},
     {"mark": {"type": "line", "opacity": 0},
      "encoding": {
       "x": {"field": "v", "type": "quantitative", "scale": {"domain": [0, 8], "nice": false, "zero": false},
             "axis": {"orient": "top", "title": null, "labels": false, "values": [0,0.5,1,1.5,2,2.5,3,3.5,4,4.5,5,5.5,6,6.5,7,7.5,8], "tickSize": {"condition": {"test": "datum.value % 1 === 0", "value": -5}, "value": -2.5}}},
       "y": {"field": "y", "type": "quantitative", "scale": {"domain": [-5, 0], "nice": false, "zero": false},
             "axis": {"orient": "right", "title": null, "labels": false, "values": [-5,-4.5,-4,-3.5,-3,-2.5,-2,-1.5,-1,-0.5,0], "tickSize": {"condition": {"test": "datum.value % 1 === 0", "value": -5}, "value": -2.5}}}
      }}
    ],
    "resolve": {"axis": {"x": "independent", "y": "independent"}}
   },
   {"width": 194, "height": 125, "data": {"name": "xo"},
    "layer": [
     {"mark": {"type": "line", "color": "black", "strokeWidth": 1.4},
      "encoding": {
       "x": {"field": "v", "type": "quantitative", "scale": {"domain": [0, 8], "nice": false, "zero": false},
             "axis": {"title": "V [10³ km s⁻¹]", "format": "d", "values": [0,0.5,1,1.5,2,2.5,3,3.5,4,4.5,5,5.5,6,6.5,7,7.5,8], "labelExpr": "datum.value % 1 === 0 ? datum.label : ''", "tickSize": {"condition": {"test": "datum.value % 1 === 0", "value": -5}, "value": -2.5}}},
       "y": {"field": "y", "type": "quantitative", "scale": {"domain": [-3, 0], "nice": false, "zero": false},
             "axis": {"title": "log(X(O))", "titleX": -37, "format": ".1f", "values": [-3,-2.9,-2.8,-2.7,-2.6,-2.5,-2.4,-2.3,-2.2,-2.1,-2,-1.9,-1.8,-1.7,-1.6,-1.5,-1.4,-1.3,-1.2,-1.1,-1,-0.9,-0.8,-0.7,-0.6,-0.5,-0.4,-0.3,-0.2,-0.1,0], "labelExpr": "abs(datum.value*2 - round(datum.value*2)) < 1e-6 ? datum.label : ''", "tickSize": {"condition": {"test": "abs(datum.value*2 - round(datum.value*2)) < 1e-6", "value": -5}, "value": -2.5}}}
      }},
     {"mark": {"type": "line", "opacity": 0},
      "encoding": {
       "x": {"field": "v", "type": "quantitative", "scale": {"domain": [0, 8], "nice": false, "zero": false},
             "axis": {"orient": "top", "title": null, "labels": false, "values": [0,0.5,1,1.5,2,2.5,3,3.5,4,4.5,5,5.5,6,6.5,7,7.5,8], "tickSize": {"condition": {"test": "datum.value % 1 === 0", "value": -5}, "value": -2.5}}},
       "y": {"field": "y", "type": "quantitative", "scale": {"domain": [-3, 0], "nice": false, "zero": false},
             "axis": {"orient": "right", "title": null, "labels": false, "values": [-3,-2.9,-2.8,-2.7,-2.6,-2.5,-2.4,-2.3,-2.2,-2.1,-2,-1.9,-1.8,-1.7,-1.6,-1.5,-1.4,-1.3,-1.2,-1.1,-1,-0.9,-0.8,-0.7,-0.6,-0.5,-0.4,-0.3,-0.2,-0.1,0], "tickSize": {"condition": {"test": "abs(datum.value*2 - round(datum.value*2)) < 1e-6", "value": -5}, "value": -2.5}}}
      }}
    ],
    "resolve": {"axis": {"x": "independent", "y": "independent"}}
   },
   {"width": 195, "height": 125, "data": {"name": "xh"},
    "layer": [
     {"mark": {"type": "line", "color": "black", "strokeWidth": 1.4},
      "encoding": {
       "x": {"field": "v", "type": "quantitative", "scale": {"domain": [0, 8], "nice": false, "zero": false},
             "axis": {"title": "V [10³ km s⁻¹]", "format": "d", "values": [0,0.5,1,1.5,2,2.5,3,3.5,4,4.5,5,5.5,6,6.5,7,7.5,8], "labelExpr": "datum.value % 1 === 0 ? datum.label : ''", "tickSize": {"condition": {"test": "datum.value % 1 === 0", "value": -5}, "value": -2.5}}},
       "y": {"field": "y", "type": "quantitative", "scale": {"domain": [0, 1], "nice": false, "zero": false},
             "axis": {"title": "X(H); X(He)", "titleX": -28, "format": ".1f", "values": [0,0.1,0.2,0.3,0.4,0.5,0.6,0.7,0.8,0.9,1.0], "labelExpr": "abs(datum.value*5 - round(datum.value*5)) < 1e-6 ? datum.label : ''", "tickSize": {"condition": {"test": "abs(datum.value*5 - round(datum.value*5)) < 1e-6", "value": -5}, "value": -2.5}}},
       "strokeDash": {"field": "s", "type": "nominal", "scale": {"domain": ["H", "He"], "range": [[1, 0], [4, 3]]}, "legend": null}
      }},
     {"mark": {"type": "line", "opacity": 0},
      "encoding": {
       "x": {"field": "v", "type": "quantitative", "scale": {"domain": [0, 8], "nice": false, "zero": false},
             "axis": {"orient": "top", "title": null, "labels": false, "values": [0,0.5,1,1.5,2,2.5,3,3.5,4,4.5,5,5.5,6,6.5,7,7.5,8], "tickSize": {"condition": {"test": "datum.value % 1 === 0", "value": -5}, "value": -2.5}}},
       "y": {"field": "y", "type": "quantitative", "scale": {"domain": [0, 1], "nice": false, "zero": false},
             "axis": {"orient": "right", "title": null, "labels": false, "values": [0,0.1,0.2,0.3,0.4,0.5,0.6,0.7,0.8,0.9,1.0], "tickSize": {"condition": {"test": "abs(datum.value*5 - round(datum.value*5)) < 1e-6", "value": -5}, "value": -2.5}}},
       "detail": {"field": "s", "type": "nominal"}
      }}
    ],
    "resolve": {"axis": {"x": "independent", "y": "independent"}}
   }
  ], "spacing": 59.5, "bounds": "flush", "resolve": {"scale": {"strokeDash": "independent"}}}
 ]}
]
}
